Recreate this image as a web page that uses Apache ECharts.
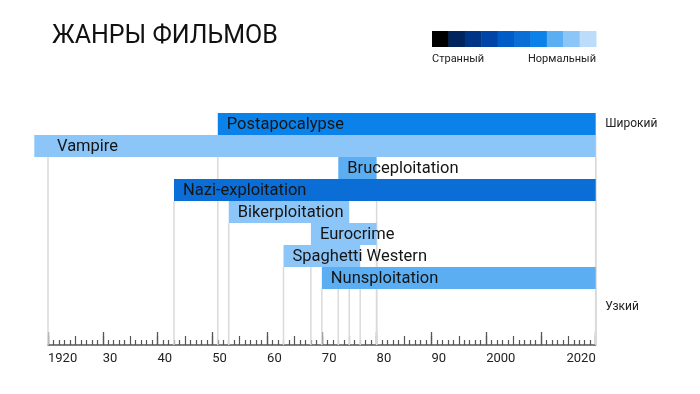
<!DOCTYPE html>
<html>
<head>
<meta charset="utf-8">
<script src="https://cdn.jsdelivr.net/npm/echarts@6/dist/echarts.min.js"></script>
<style>html,body{margin:0;padding:0;background:#fff}#c{width:700px;height:394px}</style>
</head>
<body>
<div id="c"></div>
<script>
// ---- data ----
var genres = ['Postapocalypse', 'Vampire', 'Bruceploitation', 'Nazi-exploitation', 'Bikerploitation', 'Eurocrime', 'Spaghetti Western', 'Nunsploitation'];
var startYears = [1951, 1917.5, 1973, 1943, 1953, 1968, 1963, 1970];
var endYears = [2020, 2020, 1980, 2020, 1975, 1980, 1977, 2020];
var normality = [6, 8, 7, 5, 8, 8, 8, 7]; // index into palette (0 = weird, 9 = normal)
var palette = ['#000000', '#00245e', '#003484', '#0044a8', '#005cc6', '#0a6ed6', '#0a82ea', '#5caef2', '#8cc6f8', '#bcdcfa'];
var xTickLabels = ['1920', '30', '40', '50', '60', '70', '80', '90', '2000', '', '2020'];
var legendLabels = ['Странный', 'Нормальный'];
var sideLabels = ['Широкий', 'Узкий'];
var sideLabelRows = [0.5, 8.8];
var titleText = 'ЖАНРЫ ФИЛЬМОВ';

// ---- layout ----
var X_MIN = 1920, X_MAX = 2020;
var GRID_TOP = 113, GRID_BOTTOM = 49, ROW_H = 22;
var Y_MAX = (394 - GRID_TOP - GRID_BOTTOM) / ROW_H;
var FONT = 'Roboto';
var gridBox = { left: 48, right: 104.3, top: GRID_TOP, bottom: GRID_BOTTOM };

var rows = genres.map(function (g, i) {
  return [startYears[i], endYears[i], i, normality[i]];
});

var legendGraphics = [];
var LX = 432, LW = 16.4, LY = 31, LH = 16;
palette.forEach(function (c, i) {
  legendGraphics.push({ type: 'rect', left: LX + i * LW, top: LY, shape: { width: LW + 0.5, height: LH }, style: { fill: c } });
});
legendGraphics.push({ type: 'text', left: LX, top: 54, style: { text: legendLabels[0], font: '11px ' + FONT, fill: '#222' } });
legendGraphics.push({ type: 'text', right: 700 - (LX + LW * palette.length), top: 54, style: { text: legendLabels[1], font: '11px ' + FONT, fill: '#222', textAlign: 'right' } });

var chart = echarts.init(document.getElementById('c'));
chart.setOption({
  animation: false,
  backgroundColor: '#fff',
  title: { text: titleText, left: 47, top: 19, textStyle: { fontFamily: FONT, fontSize: 25, fontWeight: 'normal', color: '#111' } },
  graphic: legendGraphics,
  grid: [Object.assign({}, gridBox), Object.assign({}, gridBox)],
  xAxis: [{
    type: 'value', gridIndex: 0, min: X_MIN, max: X_MAX, interval: 10, position: 'bottom',
    axisLine: { show: true, onZero: false, lineStyle: { color: '#555', width: 1.5 } },
    axisTick: { show: true, inside: true, length: 13, lineStyle: { color: '#555', width: 1.3 } },
    axisLabel: {
      show: true, margin: 7, fontFamily: FONT, fontSize: 13, color: '#222', align: 'left', alignMaxLabel: 'right',
      formatter: function (v) { return xTickLabels[Math.round((v - X_MIN) / 10)]; }
    },
    splitLine: { show: false }
  }, {
    type: 'value', gridIndex: 1, min: X_MIN, max: X_MAX, interval: 5, position: 'bottom',
    axisLine: { show: false, onZero: false },
    axisTick: { show: true, inside: true, length: 9, lineStyle: { color: '#555', width: 1.2 } },
    minorTick: { show: true, splitNumber: 5, length: 5, lineStyle: { color: '#555', width: 1.2 } },
    axisLabel: { show: false },
    splitLine: { show: false }
  }],
  yAxis: [
    { type: 'value', gridIndex: 0, min: 0, max: Y_MAX, inverse: true, show: false },
    { type: 'value', gridIndex: 1, min: 0, max: Y_MAX, inverse: true, show: false }
  ],
  series: [{
    type: 'custom', name: 'lines', clip: false, xAxisIndex: 0, yAxisIndex: 0, data: rows,
    renderItem: function (params, api) {
      var s = Math.max(api.value(0), X_MIN), e = Math.min(api.value(1), X_MAX), r = api.value(2);
      var p1 = api.coord([s, r + 1]), p2 = api.coord([e, r + 1]);
      var yb = api.coord([s, Y_MAX])[1];
      var st = { stroke: '#dadada', lineWidth: 1.5 };
      return { type: 'group', children: [
        { type: 'line', shape: { x1: p1[0], y1: p1[1], x2: p1[0], y2: yb }, style: st },
        { type: 'line', shape: { x1: p2[0], y1: p2[1], x2: p2[0], y2: yb }, style: st }
      ] };
    }
  }, {
    type: 'custom', name: 'bars', clip: false, xAxisIndex: 0, yAxisIndex: 0, data: rows,
    renderItem: function (params, api) {
      var r = api.value(2);
      var a = api.coord([api.value(0), r]), b = api.coord([api.value(1), r + 1]);
      var lx = api.coord([Math.max(api.value(0), X_MIN), r])[0];
      return { type: 'group', children: [
        { type: 'rect', shape: { x: a[0], y: a[1], width: b[0] - a[0], height: b[1] - a[1] }, style: { fill: palette[api.value(3)] } },
        { type: 'text', x: lx + 9, y: (a[1] + b[1]) / 2 + 0.5, z2: 10,
          style: { text: genres[params.dataIndex], font: '16.5px ' + FONT, fill: '#151515', textVerticalAlign: 'middle' } }
      ] };
    }
  }, {
    type: 'custom', name: 'side', clip: false, xAxisIndex: 0, yAxisIndex: 0,
    data: sideLabelRows.map(function (v, i) { return [X_MAX, v, i]; }),
    renderItem: function (params, api) {
      var p = api.coord([api.value(0), api.value(1)]);
      return { type: 'text', x: p[0] + 9.5, y: p[1],
        style: { text: sideLabels[api.value(2)], font: '12px ' + FONT, fill: '#222', textVerticalAlign: 'middle' } };
    }
  }]
});
</script>
</body>
</html>
